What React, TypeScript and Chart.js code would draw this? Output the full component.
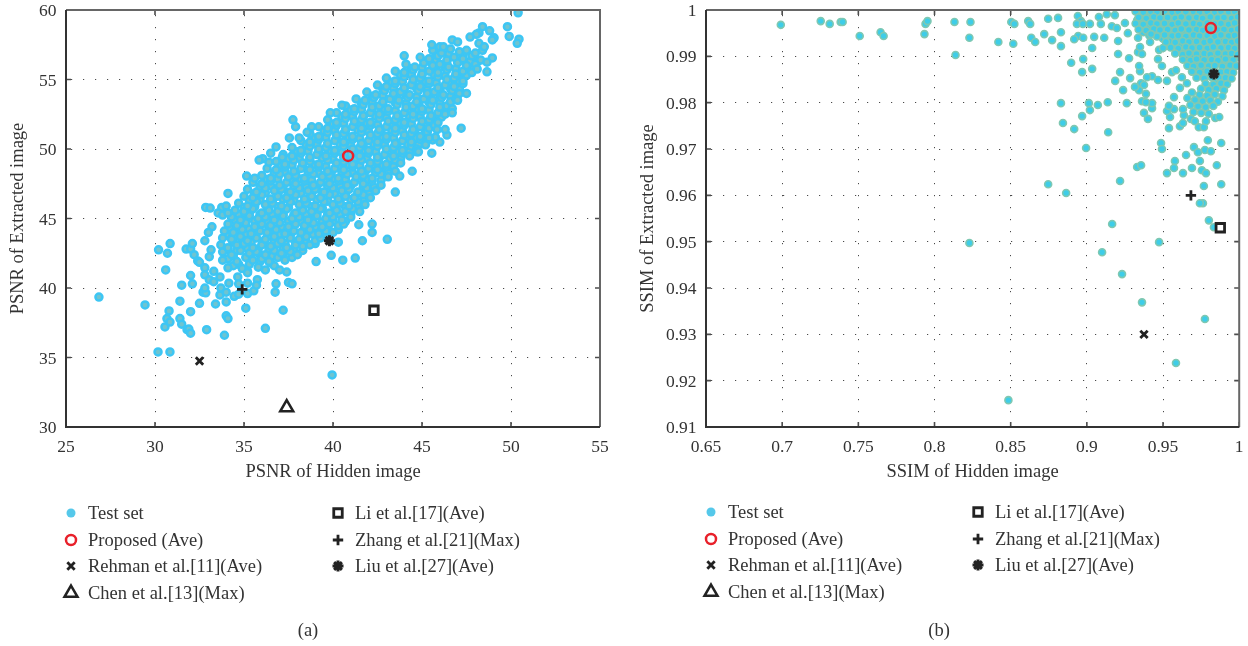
import React, { useEffect, useRef } from "react";
import { Chart, registerables } from "chart.js";
import { drawPoint } from "chart.js/helpers";

Chart.register(...registerables);

const FONT = "'Liberation Serif', serif";
const TEXT = "#333333";

const xTicksA = [25, 30, 35, 40, 45, 50, 55];
const yTicksA = [30, 35, 40, 45, 50, 55, 60];
const xTicksB = [0.65, 0.7, 0.75, 0.8, 0.85, 0.9, 0.95, 1];
const yTicksB = [0.91, 0.92, 0.93, 0.94, 0.95, 0.96, 0.97, 0.98, 0.99, 1];

const proposedA = [[40.85, 49.5]];
const rehmanA = [[32.5, 34.75]];
const chenA = [[37.4, 31.4]];
const liA = [[42.3, 38.4]];
const zhangA = [[34.9, 39.9]];
const liuA = [[39.8, 43.4]];

const proposedB = [[0.9814, 0.9961]];
const rehmanB = [[0.9375, 0.93]];
const chenB: number[][] = [];
const liB = [[0.9876, 0.953]];
const zhangB = [[0.9683, 0.96]];
const liuB = [[0.9834, 0.9862]];

const sparseA = [
  [26.85,39.35],[29.44,38.78],[30.17,35.4],[30.84,35.4],[30.56,37.2],[30.67,37.8],[30.84,37.55],[30.79,38.35],[31.4,39.05],[31.4,37.8],
  [31.5,37.4],[31.8,37],[31.9,37.05],[32,36.75],[32,38.3],[32.9,37],[33.9,36.6],[32.5,38.9],[33.4,38.85],[34,39],[34,38],[34.1,37.8],
  [35.1,38.55],[36.2,37.1],[37.2,38.4],[39.95,33.75],[30.6,41.3],[31.5,40.2],[32.1,40.3],[32,40.9],[30.2,42.75],[30.7,42.5],[30.85,43.2],
  [31.75,42.8],[32,42.8],[32.1,43.2],[32.2,42.4],[32.4,41.95],[32.5,41.85],[32.7,39.7],[32.85,39.65],[32.8,40],[33.65,39.5],[33.7,40],
  [34,39.7],[34.45,39.4],[34.7,39.55],[35.2,39.6],[35.55,39.8],[36.75,39.7],[36.8,40.3],[37.5,40.4],[37.7,40.3],[37.4,41.15],[37,41.3],
  [32.85,45.8],[33.1,45.75],[33.75,45.8],[34,45.9],[33.55,45.4],[33.8,45.25],[34.1,45.4],[33.2,44.4],[33,44],[32.8,43.4],[33.15,42.75],
  [33.05,42.25],[32.8,41.45],[32.8,40.95],[33.05,40.6],[33.3,41.2],[33.3,40.45],[33.65,40.8],[33.8,42],[34.1,41.45],[34.15,40.35],
  [34.65,40.8],[34.7,40.3],[35.2,41.1],[35.2,40.35],[35.75,40.6],[35.7,40.2],[39.05,41.9],[40.55,42],[41.25,42.15],[41.65,43.4],[43.05,43.5],
  [42.2,44],[42.2,44.6],[39.9,42.35],[40.3,43.3],[41.45,44.55],[43.5,46.9],[44.45,48.4],[43.75,48.05],[44.7,49.8],[45.6,50.65],
  [37.75,52.1],[37.9,51.6],[37.55,50.8],[36.8,50.15],[36.5,49.7],[36.05,49.3],[35.85,49.2],[36.4,49.05],[37.15,49.4],[38.1,50.8],[38.55,51.2],
  [38.8,51.6],[39.85,52.6],[40.5,53.15],[35.15,48.05],[35.6,47.9],[34.1,46.8],[50.4,59.8],[49.8,58.8],[49.9,58.1],[50.45,57.9],[50.35,57.6],
  [48.4,58.8],[48.8,58.5],[48.2,58.35],[48.05,58.25],[47.7,58.05],[49.05,58],[48.95,57.85],[46.7,57.85],[47,57.7],[45.55,57.5],[46,57.35],
  [46.2,57.35],[44,56.7],[48.2,57.6],[48.5,57.35],[48.95,56.55],[48.65,56.25],[48.65,55.55],[48.1,55.75],[47.5,54],[47.2,51.5],[46.7,52.6],
  [47,53.5],[46.4,51],[46.3,51.4],[45.85,51.4],[46,50.5],[45.75,50.85],[45.4,50.8],[45.2,50.3],[45.55,49.7],[44.8,49.8],
];

const denseA = [
  [34.4,41.6],[34.9,41.4],[35.3,41.7],[35.8,41.5],[36.2,41.3],[36.7,41.6],
  [34.1,42.1],[34.6,41.9],[35.1,42.2],[35.5,42],[36,42.1],[36.4,41.9],[36.9,42.2],[37.3,42],
  [33.8,42.6],[34.3,42.4],[34.8,42.7],[35.3,42.5],[35.7,42.6],[36.2,42.4],[36.7,42.7],[37.1,42.5],[37.6,42.6],[38,42.4],
  [33.7,43.1],[34.1,42.9],[34.6,43.1],[35,43.2],[35.5,42.9],[36,43.1],[36.5,43],[36.9,43.2],[37.4,42.9],[37.9,43.1],[38.3,43],[38.7,43.1],
  [33.8,43.6],[34.3,43.5],[34.8,43.7],[35.2,43.4],[35.7,43.6],[36.2,43.5],[36.7,43.7],[37.1,43.4],[37.6,43.6],[38.1,43.5],[38.5,43.7],[39,43.4],[39.3,43.6],
  [33.9,44.1],[34.4,44],[34.9,44.2],[35.4,43.9],[35.9,44.1],[36.3,44],[36.8,44.2],[37.3,43.9],[37.8,44.1],[38.2,44],[38.7,44.2],[39.2,43.9],[39.6,44.1],[40,44],
  [34.1,44.6],[34.6,44.5],[35.1,44.7],[35.6,44.4],[36,44.6],[36.5,44.5],[37,44.7],[37.5,44.4],[37.9,44.6],[38.4,44.5],[38.9,44.7],[39.4,44.4],[39.8,44.6],[40.3,44.5],[40.6,44.6],
  [34.3,45.1],[34.8,44.9],[35.3,45.2],[35.8,45],[36.2,45.1],[36.7,44.9],[37.2,45.2],[37.7,45],[38.1,45.1],[38.6,44.9],[39.1,45.2],[39.6,45],[40,45.1],[40.5,44.9],[41,45.1],
  [34.5,45.6],[35,45.5],[35.5,45.7],[36,45.4],[36.4,45.6],[36.9,45.5],[37.4,45.7],[37.9,45.4],[38.3,45.6],[38.8,45.5],[39.3,45.7],[39.8,45.4],[40.2,45.6],[40.7,45.5],[41.1,45.7],[41.5,45.5],
  [34.7,46.1],[35.2,45.9],[35.7,46.2],[36.2,46],[36.6,46.1],[37.1,45.9],[37.6,46.2],[38.1,46],[38.5,46.1],[39,45.9],[39.5,46.2],[40,46],[40.4,46.1],[40.9,45.9],[41.4,46.2],[41.8,46],
  [35,46.6],[35.5,46.5],[36,46.7],[36.5,46.4],[36.9,46.6],[37.4,46.5],[37.9,46.7],[38.4,46.4],[38.8,46.6],[39.3,46.5],[39.8,46.7],[40.3,46.4],[40.7,46.6],[41.2,46.5],[41.7,46.7],[42.1,46.5],
  [35.2,47.1],[35.7,46.9],[36.2,47.2],[36.7,47],[37.1,47.1],[37.6,46.9],[38.1,47.2],[38.6,47],[39,47.1],[39.5,46.9],[40,47.2],[40.5,47],[40.9,47.1],[41.4,46.9],[41.9,47.2],[42.4,47],
  [35.5,47.6],[36,47.5],[36.5,47.7],[37,47.4],[37.4,47.6],[37.9,47.5],[38.4,47.7],[38.9,47.4],[39.3,47.6],[39.8,47.5],[40.3,47.7],[40.8,47.4],[41.2,47.6],[41.7,47.5],[42.2,47.7],[42.7,47.4],
  [36,48.1],[36.5,47.9],[37,48.2],[37.5,48],[37.9,48.1],[38.4,47.9],[38.9,48.2],[39.4,48],[39.8,48.1],[40.3,47.9],[40.8,48.2],[41.3,48],[41.7,48.1],[42.2,47.9],[42.7,48.2],[43.1,48],
  [36.3,48.6],[36.8,48.5],[37.3,48.7],[37.8,48.4],[38.2,48.6],[38.7,48.5],[39.2,48.7],[39.7,48.4],[40.1,48.6],[40.6,48.5],[41.1,48.7],[41.6,48.4],[42,48.6],[42.5,48.5],[43,48.7],[43.5,48.4],
  [36.8,49.1],[37.3,48.9],[37.8,49.2],[38.3,49],[38.7,49.1],[39.2,48.9],[39.7,49.2],[40.2,49],[40.6,49.1],[41.1,48.9],[41.6,49.2],[42.1,49],[42.5,49.1],[43,48.9],[43.5,49.2],[43.8,49],
  [37.2,49.6],[37.7,49.5],[38.2,49.7],[38.7,49.4],[39.1,49.6],[39.6,49.5],[40.1,49.7],[40.6,49.4],[41,49.6],[41.5,49.5],[42,49.7],[42.5,49.4],[42.9,49.6],[43.4,49.5],[43.9,49.7],[44.3,49.5],
  [37.7,50.1],[38.2,49.9],[38.7,50.2],[39.2,50],[39.6,50.1],[40.1,49.9],[40.6,50.2],[41.1,50],[41.5,50.1],[42,49.9],[42.5,50.2],[43,50],[43.4,50.1],[43.9,49.9],[44.4,50.2],[44.7,50],
  [38.2,50.6],[38.7,50.5],[39.2,50.7],[39.7,50.4],[40.1,50.6],[40.6,50.5],[41.1,50.7],[41.6,50.4],[42,50.6],[42.5,50.5],[43,50.7],[43.5,50.4],[43.9,50.6],[44.4,50.5],[44.9,50.7],
  [38.7,51.1],[39.2,50.9],[39.7,51.2],[40.2,51],[40.6,51.1],[41.1,50.9],[41.6,51.2],[42.1,51],[42.5,51.1],[43,50.9],[43.5,51.2],[44,51],[44.4,51.1],[44.9,50.9],[45.3,51.2],
  [39.2,51.6],[39.7,51.5],[40.2,51.7],[40.7,51.4],[41.1,51.6],[41.6,51.5],[42.1,51.7],[42.6,51.4],[43,51.6],[43.5,51.5],[44,51.7],[44.5,51.4],[44.9,51.6],[45.4,51.5],[45.7,51.7],
  [39.7,52.1],[40.2,51.9],[40.7,52.2],[41.2,52],[41.6,52.1],[42.1,51.9],[42.6,52.2],[43.1,52],[43.5,52.1],[44,51.9],[44.5,52.2],[45,52],[45.4,52.1],[45.9,51.9],
  [40.2,52.6],[40.7,52.5],[41.2,52.7],[41.7,52.4],[42.1,52.6],[42.6,52.5],[43.1,52.7],[43.6,52.4],[44,52.6],[44.5,52.5],[45,52.7],[45.5,52.4],[45.9,52.6],[46.3,52.5],
  [40.7,53.1],[41.2,52.9],[41.7,53.2],[42.2,53],[42.6,53.1],[43.1,52.9],[43.6,53.2],[44.1,53],[44.5,53.1],[45,52.9],[45.5,53.2],[46,53],[46.4,53.1],[46.7,52.9],
  [41.3,53.6],[41.8,53.5],[42.3,53.7],[42.8,53.4],[43.2,53.6],[43.7,53.5],[44.2,53.7],[44.7,53.4],[45.1,53.6],[45.6,53.5],[46.1,53.7],[46.6,53.4],[46.9,53.6],
  [41.9,54.1],[42.4,53.9],[42.9,54.2],[43.4,54],[43.8,54.1],[44.3,53.9],[44.8,54.2],[45.3,54],[45.7,54.1],[46.2,53.9],[46.7,54.2],[47.1,54],
  [42.5,54.6],[43,54.5],[43.5,54.7],[44,54.4],[44.4,54.6],[44.9,54.5],[45.4,54.7],[45.9,54.4],[46.3,54.6],[46.8,54.5],[47.3,54.7],
  [43,55.1],[43.5,54.9],[44,55.2],[44.5,55],[44.9,55.1],[45.4,54.9],[45.9,55.2],[46.4,55],[46.8,55.1],[47.3,54.9],
  [43.5,55.6],[44,55.5],[44.5,55.7],[45,55.4],[45.4,55.6],[45.9,55.5],[46.4,55.7],[46.9,55.4],[47.3,55.6],[47.8,55.5],
  [44.1,56.1],[44.6,55.9],[45.1,56.2],[45.6,56],[46,56.1],[46.5,55.9],[47,56.2],[47.5,56],[48,56.1],
  [44.9,56.6],[45.4,56.5],[45.9,56.7],[46.4,56.4],[46.8,56.6],[47.3,56.5],[47.8,56.7],[48.3,56.4],
  [45.6,57.1],[46.1,56.9],[46.6,57.2],[47.1,57],[47.5,57.1],[48,56.9],[48.4,57.1],
];

const denseA2 = [
  [34.7,41.7],[35.2,41.2],[35.9,41.9],[36.5,41.8],[34.4,42.3],[35.3,42.3],[35.9,42.4],[36.6,42.3],[37.2,42.3],[37.7,42.2],
  [34.1,42.8],[34.6,42.7],[35.2,42.85],[35.8,42.8],[36.4,42.8],[37.2,42.8],[37.8,42.8],[38.3,42.7],[34.4,43.3],[34.9,43.45],[35.4,43.3],[36.1,43.3],
  [36.7,43.35],[37.3,43.2],[37.9,43.3],[38.5,43.3],[39,43.2],[34,43.85],[34.6,43.8],[35.1,43.9],[35.6,43.85],[36.4,43.75],[37,43.85],[37.6,43.8],[38.3,43.8],
  [38.9,43.85],[39.6,43.75],[34.2,44.3],[34.7,44.35],[35.3,44.25],[35.8,44.35],[36.4,44.3],[37.1,44.4],[37.7,44.3],[38.4,44.3],[39,44.4],[39.7,44.3],[40.3,44.2],
  [34.5,44.85],[35.1,44.9],[35.6,44.8],[36.3,44.8],[36.9,44.85],[37.5,44.8],[38.2,44.8],[38.8,44.85],[39.4,44.75],[40,44.8],[40.7,44.8],
  [34.7,45.3],[35.3,45.4],[35.9,45.3],[36.6,45.3],[37.2,45.35],[37.8,45.25],[38.5,45.3],[39.1,45.4],[39.7,45.3],[40.4,45.3],[41,45.35],
  [35,45.8],[35.6,45.85],[36.3,45.8],[36.9,45.85],[37.5,45.8],[38.2,45.8],[38.8,45.85],[39.4,45.75],[40.1,45.8],[40.7,45.85],[41.4,45.8],
  [35.3,46.3],[35.9,46.35],[36.6,46.3],[37.2,46.4],[37.8,46.3],[38.5,46.3],[39.1,46.35],[39.7,46.25],[40.4,46.3],[41,46.35],[41.7,46.3],
  [35.6,46.8],[36.2,46.85],[36.9,46.8],[37.5,46.85],[38.2,46.8],[38.8,46.8],[39.4,46.85],[40.1,46.75],[40.7,46.8],[41.4,46.85],[42,46.8],
  [35.9,47.3],[36.5,47.35],[37.2,47.3],[37.8,47.35],[38.5,47.25],[39.1,47.3],[39.7,47.35],[40.4,47.3],[41,47.35],[41.7,47.3],[42.3,47.25],
  [36.3,47.8],[36.9,47.85],[37.6,47.8],[38.2,47.85],[38.8,47.75],[39.5,47.8],[40.1,47.85],[40.7,47.8],[41.4,47.85],[42,47.8],[42.7,47.75],
  [36.7,48.3],[37.3,48.35],[37.9,48.3],[38.6,48.35],[39.2,48.25],[39.9,48.3],[40.5,48.35],[41.1,48.3],[41.8,48.35],[42.4,48.3],[43.1,48.25],
  [37.1,48.8],[37.7,48.85],[38.3,48.8],[39,48.85],[39.6,48.75],[40.3,48.8],[40.9,48.85],[41.5,48.8],[42.2,48.85],[42.8,48.8],[43.4,48.75],
  [37.5,49.3],[38.1,49.35],[38.7,49.3],[39.4,49.35],[40,49.25],[40.7,49.3],[41.3,49.35],[41.9,49.3],[42.6,49.35],[43.2,49.3],[43.8,49.3],
  [38,49.8],[38.6,49.85],[39.2,49.8],[39.9,49.85],[40.5,49.75],[41.2,49.8],[41.8,49.85],[42.4,49.8],[43.1,49.85],[43.7,49.8],[44.3,49.8],
  [38.5,50.3],[39.1,50.35],[39.7,50.3],[40.4,50.35],[41,50.25],[41.7,50.3],[42.3,50.35],[42.9,50.3],[43.6,50.35],[44.2,50.3],[44.8,50.3],
  [39,50.8],[39.6,50.85],[40.2,50.8],[40.9,50.85],[41.5,50.75],[42.2,50.8],[42.8,50.85],[43.4,50.8],[44.1,50.85],[44.7,50.8],[45.2,50.85],
  [39.5,51.3],[40.1,51.35],[40.7,51.3],[41.4,51.35],[42,51.25],[42.7,51.3],[43.3,51.35],[43.9,51.3],[44.6,51.35],[45.2,51.3],
  [40,51.8],[40.6,51.85],[41.2,51.8],[41.9,51.85],[42.5,51.75],[43.2,51.8],[43.8,51.85],[44.4,51.8],[45.1,51.85],[45.7,51.8],
  [40.5,52.3],[41.1,52.35],[41.7,52.3],[42.4,52.35],[43,52.25],[43.7,52.3],[44.3,52.35],[44.9,52.3],[45.6,52.35],[46.1,52.3],
  [41,52.8],[41.6,52.85],[42.2,52.8],[42.9,52.85],[43.5,52.75],[44.2,52.8],[44.8,52.85],[45.4,52.8],[46.1,52.85],[46.5,52.8],
  [41.6,53.3],[42.2,53.35],[42.8,53.3],[43.5,53.35],[44.1,53.25],[44.8,53.3],[45.4,53.35],[46,53.3],[46.6,53.35],
  [42.2,53.8],[42.8,53.85],[43.4,53.8],[44.1,53.85],[44.7,53.75],[45.4,53.8],[46,53.85],[46.6,53.8],[47,53.85],
  [42.8,54.3],[43.4,54.35],[44,54.3],[44.7,54.35],[45.3,54.25],[46,54.3],[46.6,54.35],[47.1,54.3],
  [43.3,54.8],[43.9,54.85],[44.5,54.8],[45.2,54.85],[45.8,54.75],[46.5,54.8],[47.1,54.85],
  [43.8,55.3],[44.4,55.35],[45,55.3],[45.7,55.35],[46.3,55.25],[47,55.3],[47.5,55.3],
  [44.4,55.8],[45,55.85],[45.7,55.8],[46.3,55.85],[46.9,55.75],[47.5,55.8],[47.9,55.8],
  [45.2,56.3],[45.8,56.35],[46.4,56.3],[47.1,56.35],[47.7,56.3],[48.1,56.25],[45.8,56.85],[46.5,56.85],[47.3,56.8],[47.9,56.7],
];

const sparseB = [
  [0.6991,0.9968],[0.7253,0.9976],[0.7312,0.997],[0.7384,0.9974],[0.7397,0.9974],[0.7509,0.9944],[0.7646,0.9952],[0.7666,0.9944],[0.7934,0.9948],
  [0.7941,0.997],[0.7954,0.9976],[0.8131,0.9974],[0.8236,0.9974],[0.8229,0.994],[0.8138,0.9903],[0.8419,0.9931],[0.8504,0.9974],[0.8524,0.997],
  [0.8517,0.9927],[0.8615,0.9976],[0.8628,0.997],[0.8635,0.994],[0.8661,0.9931],[0.872,0.9948],[0.8746,0.9981],[0.8811,0.9983],[0.8772,0.9935],
  [0.883,0.9952],[0.883,0.9922],[0.8941,0.9987],[0.8961,0.9976],[0.8935,0.997],[0.8974,0.997],[0.902,0.997],[0.9079,0.9985],[0.9092,0.997],
  [0.9131,0.9991],[0.9184,0.9989],[0.9164,0.9965],[0.9197,0.9961],[0.925,0.9972],[0.9269,0.995],[0.8943,0.9944],[0.8917,0.9937],[0.8976,0.994],
  [0.9048,0.9942],[0.9114,0.994],[0.9205,0.9933],[0.9035,0.9918],[0.9205,0.9905],[0.8897,0.9886],[0.8976,0.9894],[0.8969,0.9866],[0.9035,0.9873],
  [0.9277,0.9896],[0.9218,0.9866],[0.9186,0.9847],[0.9284,0.9853],[0.9238,0.9827],[0.883,0.9799],[0.9013,0.9799],[0.902,0.9784],[0.9072,0.9795],
  [0.9137,0.9801],[0.9262,0.9799],[0.8969,0.9771],[0.8843,0.9756],[0.8917,0.9743],[0.914,0.9736],[0.8995,0.9702],[0.933,0.9661],[0.9356,0.9665],
  [0.8746,0.9624],[0.8864,0.9605],[0.9218,0.9631],[0.9487,0.9713],[0.9493,0.97],[0.9578,0.9674],[0.9526,0.9648],[0.9572,0.9659],[0.9631,0.9648],
  [0.969,0.9659],[0.9651,0.9687],[0.9703,0.9704],[0.9729,0.9693],[0.9775,0.9698],[0.9814,0.9695],[0.9794,0.9719],[0.9882,0.9713],[0.9742,0.9674],
  [0.9853,0.9665],[0.9755,0.9654],[0.9782,0.9648],[0.9768,0.962],[0.9882,0.9624],[0.9539,0.9745],[0.9611,0.9749],[0.9631,0.9756],[0.9735,0.9747],
  [0.9768,0.9747],[0.9683,0.9765],[0.9709,0.976],[0.9782,0.976],[0.9843,0.9767],[0.9869,0.9769],[0.9375,0.9778],[0.9401,0.9765],[0.9428,0.9788],
  [0.9428,0.9799],[0.9362,0.9803],[0.9388,0.9801],[0.9546,0.9769],[0.9526,0.9782],[0.9572,0.9786],[0.9539,0.9793],[0.9637,0.9773],[0.9631,0.9786],
  [0.9572,0.9812],[0.9388,0.9819],[0.9356,0.9842],[0.9375,0.9838],[0.9343,0.9827],[0.9316,0.9834],[0.9428,0.9857],[0.9395,0.9855],[0.9467,0.9849],
  [0.9526,0.9847],[0.9349,0.9868],[0.9343,0.9879],[0.9467,0.9894],[0.9493,0.9879],[0.9559,0.9866],[0.9585,0.987],[0.9624,0.9855],[0.9657,0.9842],
  [0.9611,0.9832],[0.9336,0.9909],[0.9362,0.9905],[0.9349,0.992],[0.9336,0.994],[0.9415,0.9931],[0.9421,0.9948],[0.9474,0.9914],[0.95,0.9918],
  [0.9519,0.9931],[0.8229,0.9497],[0.8485,0.9158],[0.9585,0.9238],[0.9775,0.9333],[0.9362,0.9369],[0.9231,0.943],[0.91,0.9477],[0.9474,0.9499],
  [0.9166,0.9538],[0.9762,0.9583],[0.9742,0.9583],[0.9801,0.9546],[0.9834,0.9531],
];

const denseB = [
  [0.932,0.9997],[0.937,0.9995],[0.942,0.9997],[0.946,0.9995],[0.951,0.9997],[0.956,0.9995],[0.96,0.9997],[0.965,0.9996],[0.97,0.9997],[0.974,0.9995],[0.979,0.9997],[0.984,0.9995],[0.988,0.9997],[0.993,0.9996],[0.997,0.9997],
  [0.934,0.9984],[0.939,0.9982],[0.944,0.9985],[0.948,0.9983],[0.953,0.9984],[0.958,0.9982],[0.962,0.9985],[0.967,0.9983],[0.972,0.9984],[0.976,0.9982],[0.981,0.9985],[0.986,0.9983],[0.99,0.9984],[0.995,0.9982],[0.999,0.9985],
  [0.932,0.9971],[0.937,0.9969],[0.942,0.9972],[0.946,0.997],[0.951,0.9971],[0.956,0.9969],[0.96,0.9972],[0.965,0.997],[0.97,0.9971],[0.974,0.9969],[0.979,0.9972],[0.984,0.997],[0.988,0.9971],[0.993,0.9969],[0.997,0.9972],
  [0.934,0.9958],[0.939,0.9956],[0.944,0.9959],[0.948,0.9957],[0.953,0.9958],[0.958,0.9956],[0.962,0.9959],[0.967,0.9957],[0.972,0.9958],[0.976,0.9956],[0.981,0.9959],[0.986,0.9957],[0.99,0.9958],[0.995,0.9956],[0.999,0.9959],
  [0.941,0.9945],[0.946,0.9943],[0.951,0.9946],[0.956,0.9944],[0.96,0.9945],[0.965,0.9943],[0.97,0.9946],[0.974,0.9944],[0.979,0.9945],[0.984,0.9943],[0.988,0.9946],[0.993,0.9944],[0.997,0.9945],
  [0.954,0.9932],[0.958,0.993],[0.963,0.9933],[0.967,0.9931],[0.972,0.9932],[0.977,0.993],[0.981,0.9933],[0.986,0.9931],[0.991,0.9932],[0.995,0.993],[0.999,0.9933],
  [0.955,0.9919],[0.96,0.9917],[0.965,0.992],[0.969,0.9918],[0.974,0.9919],[0.979,0.9917],[0.983,0.992],[0.988,0.9918],[0.993,0.9919],[0.997,0.9917],
  [0.958,0.9906],[0.963,0.9904],[0.967,0.9907],[0.972,0.9905],[0.977,0.9906],[0.981,0.9904],[0.986,0.9907],[0.991,0.9905],[0.995,0.9906],[0.999,0.9904],
  [0.963,0.9893],[0.968,0.9891],[0.972,0.9894],[0.977,0.9892],[0.982,0.9893],[0.986,0.9891],[0.991,0.9894],[0.996,0.9892],
  [0.966,0.988],[0.97,0.9878],[0.975,0.9881],[0.98,0.9879],[0.984,0.988],[0.989,0.9878],[0.994,0.9881],[0.998,0.9879],
  [0.969,0.9867],[0.974,0.9865],[0.979,0.9868],[0.988,0.9866],[0.992,0.9867],[0.996,0.9865],
  [0.972,0.9854],[0.977,0.9852],[0.982,0.9855],[0.987,0.9853],[0.991,0.9854],[0.995,0.9852],
  [0.978,0.9841],[0.983,0.9839],[0.988,0.9842],[0.992,0.984],
  [0.975,0.983],[0.98,0.9828],[0.985,0.983],[0.99,0.9827],[0.969,0.9822],[0.974,0.9817],[0.979,0.9815],[0.984,0.9818],[0.989,0.9814],
  [0.966,0.981],[0.971,0.9806],[0.976,0.9803],[0.981,0.9805],[0.986,0.9802],[0.968,0.9795],[0.973,0.9792],[0.978,0.979],[0.983,0.9793],
  [0.97,0.978],[0.975,0.9778],[0.98,0.9776],
];

const denseB2 = [
  [0.935,0.9991],[0.94,0.999],[0.944,0.9991],[0.949,0.9989],[0.954,0.9991],[0.958,0.999],[0.963,0.9991],[0.968,0.9989],[0.972,0.9991],[0.977,0.999],[0.982,0.9991],[0.986,0.9989],[0.991,0.9991],[0.995,0.999],
  [0.933,0.9978],[0.938,0.9977],[0.943,0.9978],[0.947,0.9976],[0.952,0.9978],[0.957,0.9977],[0.961,0.9978],[0.966,0.9976],[0.971,0.9978],[0.975,0.9977],[0.98,0.9978],[0.985,0.9976],[0.989,0.9978],[0.994,0.9977],[0.998,0.9978],
  [0.935,0.9965],[0.94,0.9964],[0.944,0.9965],[0.949,0.9963],[0.954,0.9965],[0.958,0.9964],[0.963,0.9965],[0.968,0.9963],[0.972,0.9965],[0.977,0.9964],[0.982,0.9965],[0.986,0.9963],[0.991,0.9965],[0.995,0.9964],
  [0.937,0.9952],[0.942,0.9951],[0.947,0.9952],[0.952,0.995],[0.956,0.9952],[0.961,0.9951],[0.965,0.9952],[0.97,0.995],[0.975,0.9952],[0.979,0.9951],[0.984,0.9952],[0.989,0.995],[0.993,0.9952],[0.998,0.9951],
  [0.95,0.9938],[0.955,0.9937],[0.96,0.9938],[0.964,0.9936],[0.969,0.9938],[0.974,0.9937],[0.978,0.9938],[0.983,0.9936],[0.988,0.9938],[0.992,0.9937],[0.997,0.9938],
  [0.956,0.9925],[0.961,0.9924],[0.966,0.9925],[0.971,0.9923],[0.975,0.9925],[0.98,0.9924],[0.985,0.9925],[0.99,0.9923],[0.994,0.9925],[0.998,0.9924],
  [0.961,0.9912],[0.966,0.9911],[0.971,0.9912],[0.976,0.991],[0.98,0.9912],[0.985,0.9911],[0.99,0.9912],[0.995,0.991],
  [0.965,0.9899],[0.97,0.9898],[0.975,0.9899],[0.98,0.9897],[0.984,0.9899],[0.989,0.9898],[0.994,0.9899],[0.998,0.9897],
  [0.968,0.9886],[0.973,0.9885],[0.978,0.9886],[0.983,0.9884],[0.987,0.9886],[0.992,0.9885],[0.996,0.9886],
  [0.971,0.9873],[0.976,0.9872],[0.981,0.9873],[0.99,0.9871],[0.994,0.9873],[0.974,0.986],[0.979,0.9859],[0.989,0.986],[0.993,0.9859],[0.985,0.9847],[0.99,0.9846],[0.98,0.9835],[0.986,0.9835],
];

const seriesStyle = [
  { label: "Test set", pointStyle: "circle", radius: 4.5, lw: 0, stroke: "#3fc5ee", fill: "#55c8ea" },
  { label: "Proposed (Ave)", pointStyle: "circle", radius: 5, lw: 2.5, stroke: "#e8202a", fill: "rgba(0,0,0,0)" },
  { label: "Rehman et al.[11](Ave)", pointStyle: "crossRot", radius: 5.2, lw: 2.8, stroke: "#222222", fill: "#222222" },
  { label: "Chen et al.[13](Max)", pointStyle: "triangle", radius: 7.5, lw: 2.5, stroke: "#222222", fill: "rgba(0,0,0,0)" },
  { label: "Li et al.[17](Ave)", pointStyle: "rect", radius: 6, lw: 2.8, stroke: "#222222", fill: "#ffffff" },
  { label: "Zhang et al.[21](Max)", pointStyle: "cross", radius: 5.2, lw: 2.8, stroke: "#222222", fill: "#222222" },
  { label: "Liu et al.[27](Ave)", pointStyle: "star", radius: 5.5, lw: 3, stroke: "#222222", fill: "#222222" },
];

const W_A = 624;
const W_B = 618;
const H = 646;

function panel(
  canvas: HTMLCanvasElement,
  axisWidth: number,
  rightPad: number,
  xRange: number[],
  yRange: number[],
  xTicks: number[],
  yTicks: number[],
  xTitle: string,
  yTitle: string,
  caption: string,
  captionX: number,
  legendX: number[],
  legendY: number[],
  test: { data: number[][]; fill: string; stroke: string; radius: number; lw: number },
  marks: number[][][],
) {
  const tick = { color: TEXT, font: { family: FONT, size: 17.5 }, autoSkip: false, maxRotation: 0 };
  const grid = { color: "#4a4a4a", lineWidth: 1, drawTicks: false };
  const border = { display: false, dash: [1.2, 10.8], dashOffset: 7 };
  const titleOf = (text: string) => ({
    display: true,
    text,
    color: TEXT,
    font: { family: FONT, size: 18.5 },
    padding: { top: 7, bottom: 1 },
  });

  const frame = {
    id: "frame",
    afterDatasetsDraw(c: any) {
      const { ctx, chartArea: a, scales } = c;
      ctx.save();
      ctx.strokeStyle = "#4d4d4d";
      ctx.lineWidth = 1.6;
      ctx.beginPath();
      for (const t of scales.x.ticks) {
        const p = scales.x.getPixelForValue(t.value);
        ctx.moveTo(p, a.top);
        ctx.lineTo(p, a.top + 5);
        ctx.moveTo(p, a.bottom);
        ctx.lineTo(p, a.bottom - 5);
      }
      for (const t of scales.y.ticks) {
        const p = scales.y.getPixelForValue(t.value);
        ctx.moveTo(a.left, p);
        ctx.lineTo(a.left + 5, p);
        ctx.moveTo(a.right, p);
        ctx.lineTo(a.right - 5, p);
      }
      ctx.stroke();
      ctx.lineWidth = 2;
      ctx.strokeStyle = "#666666";
      ctx.beginPath();
      ctx.moveTo(a.left, a.top);
      ctx.lineTo(a.right, a.top);
      ctx.lineTo(a.right, a.bottom);
      ctx.stroke();
      ctx.strokeStyle = "#333333";
      ctx.beginPath();
      ctx.moveTo(a.right, a.bottom);
      ctx.lineTo(a.left, a.bottom);
      ctx.lineTo(a.left, a.top);
      ctx.stroke();

      ctx.font = `18.5px ${FONT}`;
      ctx.textBaseline = "middle";
      seriesStyle.forEach((s, i) => {
        const col = i < 4 ? 0 : 1;
        const row = i < 4 ? i : i - 4;
        const x = legendX[col];
        const y = legendY[row];
        ctx.fillStyle = s.fill;
        ctx.strokeStyle = s.lw ? s.stroke : s.fill;
        ctx.lineWidth = s.lw || 0.01;
        drawPoint(ctx, { pointStyle: s.pointStyle, radius: s.radius, borderWidth: s.lw || 0.01, rotation: 0 } as any, x, y);
        ctx.fillStyle = TEXT;
        ctx.textAlign = "left";
        ctx.fillText(s.label, x + 17, y + 1.5);
      });
      ctx.textAlign = "center";
      ctx.fillText(caption, captionX, 631);
      ctx.restore();
    },
  };

  return new Chart(canvas, {
    type: "scatter",
    data: {
      datasets: [
        {
          label: seriesStyle[0].label,
          data: test.data.map(([x, y]) => ({ x, y })),
          backgroundColor: test.fill,
          borderColor: test.stroke,
          borderWidth: test.lw,
          pointRadius: test.radius,
          order: 10,
        },
        ...seriesStyle.slice(1).map((s, i) => ({
          label: s.label,
          data: marks[i].map(([x, y]) => ({ x, y })),
          pointStyle: s.pointStyle,
          pointRadius: s.radius,
          borderWidth: s.lw,
          borderColor: s.stroke,
          backgroundColor: s.fill,
          order: 1,
        })),
      ],
    } as any,
    options: {
      responsive: false,
      animation: false,
      events: [],
      layout: { padding: { left: 0, top: 10, right: rightPad, bottom: 162 } },
      plugins: { legend: { display: false }, tooltip: { enabled: false } },
      scales: {
        x: {
          type: "linear",
          min: xRange[0],
          max: xRange[1],
          grid,
          border,
          title: titleOf(xTitle),
          ticks: { ...tick, padding: 10, callback: (v: any) => String(v) },
          afterBuildTicks: (s: any) => {
            s.ticks = xTicks.map((value) => ({ value }));
          },
          afterFit: (s: any) => {
            s.height = 57;
            s.paddingLeft = 0;
            s.paddingRight = 0;
          },
        },
        y: {
          type: "linear",
          min: yRange[0],
          max: yRange[1],
          grid,
          border,
          title: titleOf(yTitle),
          ticks: { ...tick, padding: 9.5, labelOffset: 1.5, callback: (v: any) => String(v) },
          afterBuildTicks: (s: any) => {
            s.ticks = yTicks.map((value) => ({ value }));
          },
          afterFit: (s: any) => {
            s.width = axisWidth;
            s.paddingTop = 0;
            s.paddingBottom = 0;
          },
        },
      },
    } as any,
    plugins: [frame],
  } as any);
}

export default function App() {
  const refA = useRef<HTMLCanvasElement>(null);
  const refB = useRef<HTMLCanvasElement>(null);

  useEffect(() => {
    const a = panel(
      refA.current!, 66, 24, [25, 55], [30, 60], xTicksA, yTicksA,
      "PSNR of Hidden image", "PSNR of Extracted image", "(a)", 308, [71, 338], [513, 540, 566, 593],
      { data: [...denseA2, ...denseA, ...sparseA], fill: "#6fc4d0", stroke: "#3dc6f4", radius: 3.5, lw: 2.5 },
      [proposedA, rehmanA, chenA, liA, zhangA, liuA],
    );
    const b = panel(
      refB.current!, 76, 8, [0.65, 1], [0.91, 1], xTicksB, yTicksB,
      "SSIM of Hidden image", "SSIM of Extracted image", "(b)", 309, [81, 348], [512, 539, 565, 592],
      { data: [...denseB2, ...denseB, ...sparseB], fill: "#3ecde8", stroke: "#7fc8b2", radius: 3.5, lw: 1.6 },
      [proposedB, rehmanB, chenB, liB, zhangB, liuB],
    );
    return () => {
      a.destroy();
      b.destroy();
    };
  }, []);

  return (
    <div style={{ position: "absolute", left: 0, top: 0, width: 1248, height: H, background: "#ffffff", overflow: "hidden" }}>
      <canvas ref={refA} width={W_A} height={H} style={{ position: "absolute", left: 0, top: 0 }} />
      <canvas ref={refB} width={W_B} height={H} style={{ position: "absolute", left: 630, top: 0 }} />
    </div>
  );
}
